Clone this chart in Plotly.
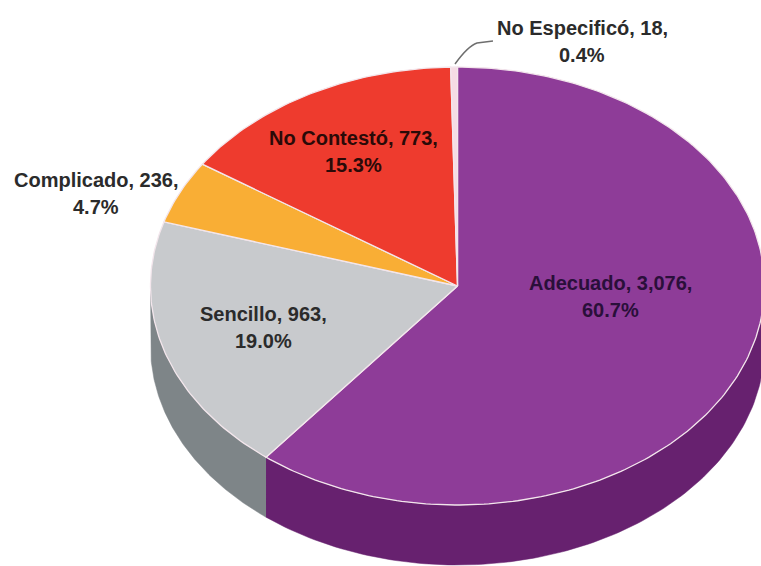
import numpy as np
import plotly.graph_objects as go

# Data
categories = ["Adecuado", "Sencillo", "Complicado", "No Contestó", "No Especificó"]
values = [3076, 963, 236, 773, 18]
percents = ["60.7%", "19.0%", "4.7%", "15.3%", "0.4%"]
value_labels = ["3,076", "963", "236", "773", "18"]

# Styling
top_colors = ["#8E3C98", "#C8CACD", "#F9AE35", "#EE3B2E", "#F6DCE4"]
side_colors = ["#67216F", "#7E8588", "#C9892A", "#B92D23", "#C4B0B6"]
label_x = [610, 263, 96, 353, 582]
label_y = [283, 314, 180, 138, 28]
line_gap = 27
label_colors = ["#2A0F3A", "#2B2B2B", "#2B2B2B", "#2A0A08", "#2B2B2B"]

W, H = 761, 566
CX, CY, RX, RY, DEPTH = 457.5, 286, 307, 219, 60


def rim(t, dy=0.0):
    return CX + RX * np.sin(t), CY - RY * np.cos(t) + dy


total = sum(values)
edges = 2 * np.pi * np.cumsum([0] + values) / total

fig = go.Figure()

# Visible side wall: the front half of the ellipse
for i in range(len(values)):
    a, b = max(edges[i], np.pi / 2), min(edges[i + 1], 3 * np.pi / 2)
    if b <= a:
        continue
    t = np.linspace(a, b, 120)
    x1, y1 = rim(t)
    x2, y2 = rim(t[::-1], DEPTH)
    fig.add_trace(go.Scatter(
        x=np.concatenate([x1, x2]), y=np.concatenate([y1, y2]),
        mode="lines", fill="toself", fillcolor=side_colors[i],
        line=dict(color=side_colors[i], width=0.5), hoverinfo="skip", showlegend=False))

# Top face
for i in range(len(values)):
    t = np.linspace(edges[i], edges[i + 1], max(8, int(400 * values[i] / total)))
    x, y = rim(t)
    fig.add_trace(go.Scatter(
        x=np.concatenate([[CX], x, [CX]]), y=np.concatenate([[CY], y, [CY]]),
        mode="lines", fill="toself", fillcolor=top_colors[i],
        line=dict(color="#F3E6EC", width=1.3), hoverinfo="skip", showlegend=False))

# Data labels, two lines each
for i, cat in enumerate(categories):
    for k, txt in enumerate([f"{cat}, {value_labels[i]},", percents[i]]):
        fig.add_annotation(
            x=label_x[i], y=label_y[i] + k * line_gap, text=f"<b>{txt}</b>", showarrow=False,
            xanchor="center", yanchor="middle",
            font=dict(family="Liberation Sans", size=20, color=label_colors[i]))

fig.update_layout(
    width=W, height=H, margin=dict(l=0, r=0, t=0, b=0),
    paper_bgcolor="white", plot_bgcolor="white", showlegend=False,
    xaxis=dict(range=[0, W], visible=False, fixedrange=True),
    yaxis=dict(range=[H, 0], visible=False, fixedrange=True),
    shapes=[dict(type="path", path="M 455 64 Q 468 46 477 43 L 493 41",
                 line=dict(color="#6E6E6E", width=1.5))],
)
fig.write_html("out.html", config={"displayModeBar": False},
               post_script="document.body.style.margin='0';document.documentElement.style.overflow='hidden';")
